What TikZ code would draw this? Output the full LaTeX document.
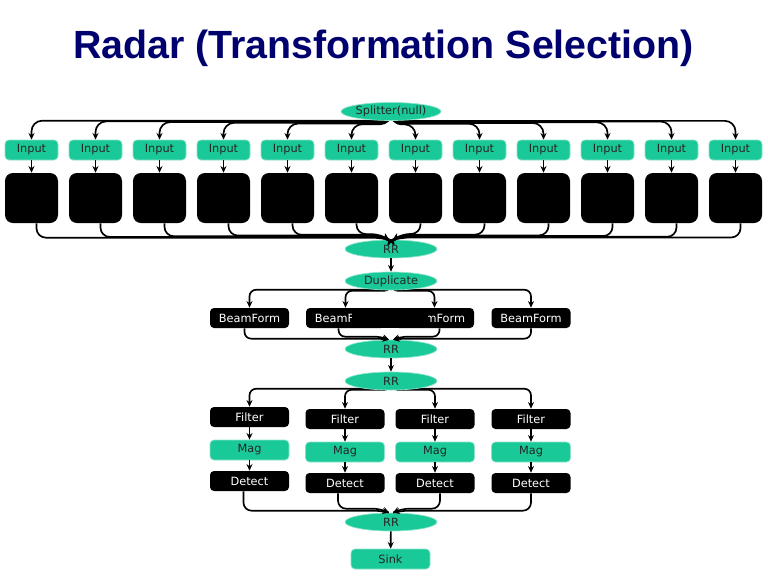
\documentclass[tikz,border=0pt]{standalone}
\usepackage{fontspec}
\setmainfont{Liberation Sans}
\newfontfamily\boxfont{DejaVu Sans}
\usetikzlibrary{shapes.geometric,arrows.meta,calc}
\pgfdeclarelayer{background}
\pgfsetlayers{background,main}
\definecolor{teal1}{RGB}{26,201,152}
\definecolor{navy1}{RGB}{0,0,110}
\begin{document}
\begin{tikzpicture}[x=0.75pt,y=-0.75pt,
  lbl/.style={font=\boxfont\fontsize{8.5}{10}\selectfont, inner sep=0pt},
  tbox/.style={lbl, draw=teal1!50!white, line width=0.5pt, fill=teal1, rounded corners=3pt, minimum width=39.75pt, minimum height=15pt, text=black!85},
  twide/.style={tbox, minimum width=59.25pt},
  kbox/.style={lbl, fill=black, rounded corners=3pt, minimum width=59.25pt, minimum height=15pt, text=white},
  bbig/.style={fill=black, rounded corners=6pt, minimum width=39.75pt, minimum height=37.5pt, inner sep=0pt},
  tell/.style={lbl, ellipse, draw=teal1!50!white, line width=0.5pt, fill=teal1, minimum width=69pt, minimum height=13.5pt, text=black!85},
  arr/.style={-{Stealth[length=5pt,width=4.5pt]}, line width=1.25pt},
  line/.style={-{Stealth[length=5pt,width=4.5pt]}, line width=1.25pt, rounded corners=#1},
  line/.default=6pt]
\useasboundingbox (0,0) rectangle (768,576);

% title
\node[font=\bfseries\fontsize{29.5}{32}\selectfont, text=navy1] (title) at (383.5,48) {Radar (Transformation Selection)};

% top row
\node[tell] (sp) at (391,111.5) {Splitter(null)};
\foreach \i in {1,...,12}{
  \pgfmathsetmacro\xx{31.5+64*(\i-1)}
  \node[tbox] (in\i) at (\xx,150) {Input};
  \node[bbig] (bk\i) at (\xx,198) {};
}
\node[tell] (rr) at (391,249) {RR};
\node[tell] (dup) at (391,281) {Duplicate};

% beamform row
\node[kbox] (bf1) at (249.5,318) {BeamForm};
\node[kbox] (bf2) at (345.5,318) {BeamForm};
\node[kbox] (bf3) at (434.5,318) {BeamForm};
\node[kbox] (bf4) at (531,318) {BeamForm};
\node[fill=black, minimum width=57pt, minimum height=15pt, inner sep=0pt] (cover) at (390,318) {};
\node[tell] (rr2) at (391,349) {RR};
\node[tell] (rr3) at (391,381) {RR};

% filter / mag / detect columns
\foreach \j/\xx/\yo in {1/249.5/-2, 2/345/0, 3/435/0, 4/531/0}{
  \node[kbox] (fi\j) at (\xx,419+\yo) {Filter};
  \node[twide] (mg\j) at (\xx,452+\yo) {Mag};
  \node[kbox] (de\j) at (\xx,483+\yo) {Detect};
  \draw[arr] (fi\j) -- (mg\j);
  \draw[arr] (mg\j) -- (de\j);
}
\node[tell] (rr4) at (391,522) {RR};
\node[twide] (sink) at (390.5,559) {Sink};

% straight arrows
\draw[arr] (rr) -- (dup);
\draw[arr] (rr2) -- (rr3);
\draw[arr] (rr4) -- (sink);

% bundles
\begin{pgfonlayer}{background}
\foreach \i in {1,...,12}{
  \pgfmathsetmacro\xx{31.5+64*(\i-1)}
  \pgfmathsetmacro\up{15+4*abs(\xx-391)/360}
  \draw[line=8pt] (sp.center) |- ($(in\i.north)+(0,-\up)$) -- (in\i.north);
}
\foreach \j/\up in {1/18, 2/17, 3/17, 4/18}{
  \draw[line=5pt] (dup.center) |- ($(bf\j.north)+(0,-\up)$) -- (bf\j.north);
}
\foreach \j/\up in {1/18, 2/19, 3/19, 4/20}{
  \draw[line=5pt] (rr3.center) |- ($(fi\j.north)+(0,-\up)$) -- (fi\j.north);
}
\end{pgfonlayer}

\foreach \i in {1,...,12}{
  \pgfmathsetmacro\xx{31.5+64*(\i-1)}
  \pgfmathsetmacro\dn{11+4*abs(\xx-391)/360}
  \pgfmathsetmacro\sg{\xx<391 ? -1 : 1}
  \pgfmathsetmacro\lv{223+\dn-240}
  \draw[arr] (in\i) -- (bk\i);
  \draw[line=7pt] ($(bk\i.south)+(5,0)$) |- ($(rr.north)+(\sg*10,\lv)$) -- ($(rr.north)+(\sg*2,0)$);
}
\foreach \j/\sh/\sg/\lv in {1/-5/-1/-1, 2/-7/-1/-3, 3/5/1/-3, 4/0/1/-1}{
  \draw[line=5pt] ($(bf\j.south)+(\sh,0)$) |- ($(rr2.north)+(\sg*10,\lv)$) -- ($(rr2.north)+(\sg*2,0)$);
}
\foreach \j/\sh/\sg/\lv in {1/-6/-1/-2, 2/-7/-1/-4, 3/5/1/-4, 4/0/1/-2}{
  \draw[line=6pt] ($(de\j.south)+(\sh,0)$) |- ($(rr4.north)+(\sg*10,\lv)$) -- ($(rr4.north)+(\sg*2,0)$);
}
\end{tikzpicture}
\end{document}
